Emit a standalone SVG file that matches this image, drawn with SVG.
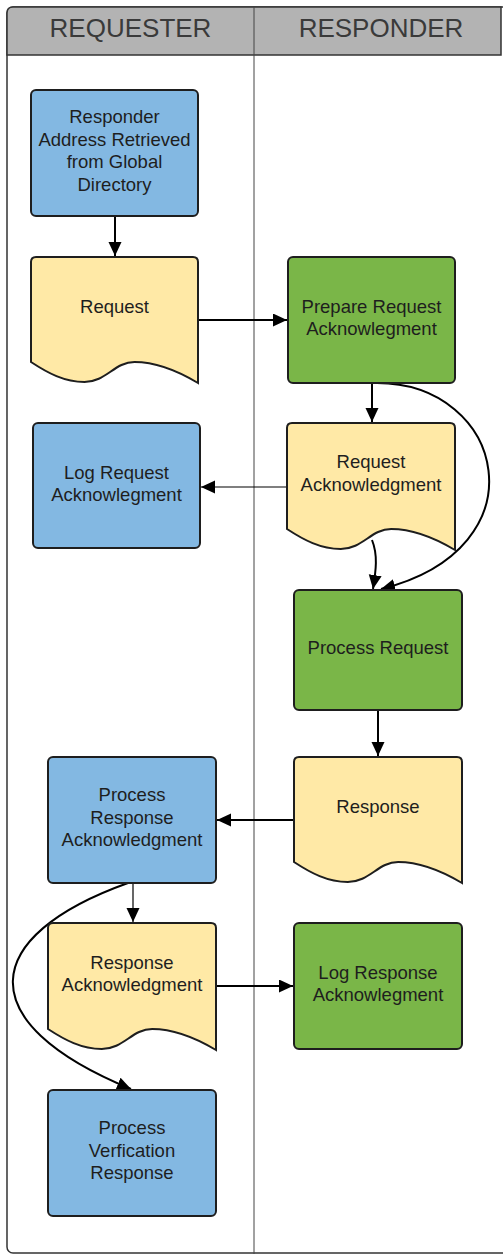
<svg xmlns="http://www.w3.org/2000/svg" width="503" height="1254" viewBox="0 0 503 1254">
  <style>
    .lane-title { font-family: "Liberation Sans", Arial, sans-serif; font-size: 26px; fill: #3a3a3a; text-anchor: middle; }
    .label { font-family: "Liberation Sans", Arial, sans-serif; font-size: 18.5px; fill: #1e1e1e; text-anchor: middle; }
    .box { stroke: #1e1e1e; stroke-width: 2; }
    .blue { fill: #83b8e2; }
    .green { fill: #7ab648; }
    .doc { fill: #ffe9a6; }
    .edge { fill: none; stroke: #000; stroke-width: 2; }
    .thin { stroke-width: 1.2; }
  </style>
  <defs>
    <marker id="arrow" markerUnits="userSpaceOnUse" markerWidth="16" markerHeight="14" refX="14" refY="6.5" orient="auto">
      <path d="M0,0 L14,6.5 L0,13 Z" fill="#000"/>
    </marker>
  </defs>

  <!-- swimlane frame -->
  <g id="lanes">
    <rect x="7" y="7" width="620" height="1246" rx="6" fill="#fff" stroke="#333" stroke-width="1.5"/>
    <path d="M7,55 L7,13 Q7,7 13,7 L501,7 L501,55 Z" fill="#b3b3b3" stroke="#333" stroke-width="1.5"/>
    <line x1="254" y1="7" x2="254" y2="1254" stroke="#444" stroke-width="1"/>
    <text class="lane-title" x="130.5" y="37">REQUESTER</text>
    <text class="lane-title" x="381" y="37">RESPONDER</text>
  </g>

  <!-- connectors -->
  <g id="connectors">
    <line class="edge" x1="115" y1="216" x2="115" y2="256" marker-end="url(#arrow)"/>
    <line class="edge" x1="198" y1="320" x2="287" y2="320" marker-end="url(#arrow)"/>
    <line class="edge" x1="372" y1="383" x2="372" y2="422" marker-end="url(#arrow)"/>
    <line class="edge thin" x1="287" y1="487" x2="201" y2="487" marker-end="url(#arrow)"/>
    <path class="edge" d="M377,383 C505,383 545,548 381,589" stroke-width="1.8" marker-end="url(#arrow)"/>
    <path class="edge" d="M372,540 C378,555 376,570 373,589" stroke-width="1.8" marker-end="url(#arrow)"/>
    <line class="edge" x1="378" y1="710" x2="378" y2="756" marker-end="url(#arrow)"/>
    <line class="edge" x1="294" y1="820" x2="217" y2="820" marker-end="url(#arrow)"/>
    <line class="edge thin" x1="133" y1="883" x2="133" y2="922" marker-end="url(#arrow)"/>
    <path class="edge" d="M128,883 C-20,936 -32,1022 131,1089" stroke-width="1.8" marker-end="url(#arrow)"/>
    <line class="edge" x1="216" y1="986" x2="293" y2="986" marker-end="url(#arrow)"/>
  </g>

  <!-- requester lane -->
  <g id="n-directory">
    <rect class="box blue" x="31" y="90" width="167" height="126" rx="5"/>
    <text class="label" x="114.5" y="123">Responder</text>
    <text class="label" x="114.5" y="145.5">Address Retrieved</text>
    <text class="label" x="114.5" y="168">from Global</text>
    <text class="label" x="114.5" y="190.5">Directory</text>
  </g>
  <g id="n-request">
    <path class="box doc" d="M31,262 Q31,257 36,257 L193,257 Q198,257 198,262 L198,383 C178,371 156,362 134.5,362 C114.5,362 106,382 84.5,382 C64.4,382 47.7,373 31,362 Z"/>
    <text class="label" x="114.5" y="313">Request</text>
  </g>
  <g id="n-log-request">
    <rect class="box blue" x="33" y="423" width="167" height="125" rx="5"/>
    <text class="label" x="116.5" y="479">Log Request</text>
    <text class="label" x="116.5" y="501">Acknowlegment</text>
  </g>
  <g id="n-process-response">
    <rect class="box blue" x="48" y="757" width="168" height="126" rx="5"/>
    <text class="label" x="132" y="801">Process</text>
    <text class="label" x="132" y="823.5">Response</text>
    <text class="label" x="132" y="846">Acknowledgment</text>
  </g>
  <g id="n-response-ack">
    <path class="box doc" d="M48,928 Q48,923 53,923 L211,923 Q216,923 216,928 L216,1050 C195.8,1038 174,1029 152.2,1029 C132,1029 123.6,1049 101.8,1049 C81.6,1049 64.8,1040 48,1029 Z"/>
    <text class="label" x="132" y="968.5">Response</text>
    <text class="label" x="132" y="991">Acknowledgment</text>
  </g>
  <g id="n-verification">
    <rect class="box blue" x="48" y="1090" width="168" height="126" rx="5"/>
    <text class="label" x="132" y="1134">Process</text>
    <text class="label" x="132" y="1156.5">Verfication</text>
    <text class="label" x="132" y="1179">Response</text>
  </g>

  <!-- responder lane -->
  <g id="n-prepare-ack">
    <rect class="box green" x="288" y="257" width="167" height="126" rx="5"/>
    <text class="label" x="371.5" y="313">Prepare Request</text>
    <text class="label" x="371.5" y="335">Acknowlegment</text>
  </g>
  <g id="n-request-ack">
    <path class="box doc" d="M287,428 Q287,423 292,423 L450,423 Q455,423 455,428 L455,550 C434.8,538 413,529 391.2,529 C371,529 362.6,549 340.8,549 C320.6,549 303.8,540 287,529 Z"/>
    <text class="label" x="371" y="468">Request</text>
    <text class="label" x="371" y="491">Acknowledgment</text>
  </g>
  <g id="n-process-request">
    <rect class="box green" x="294" y="590" width="168" height="120" rx="5"/>
    <text class="label" x="378" y="654">Process Request</text>
  </g>
  <g id="n-response">
    <path class="box doc" d="M294,762 Q294,757 299,757 L457,757 Q462,757 462,762 L462,883 C441.8,871 420,862 398.2,862 C378,862 369.6,882 347.8,882 C327.6,882 310.8,873 294,862 Z"/>
    <text class="label" x="378" y="813">Response</text>
  </g>
  <g id="n-log-response">
    <rect class="box green" x="294" y="923" width="168" height="126" rx="5"/>
    <text class="label" x="378" y="979">Log Response</text>
    <text class="label" x="378" y="1001">Acknowlegment</text>
  </g>
</svg>
